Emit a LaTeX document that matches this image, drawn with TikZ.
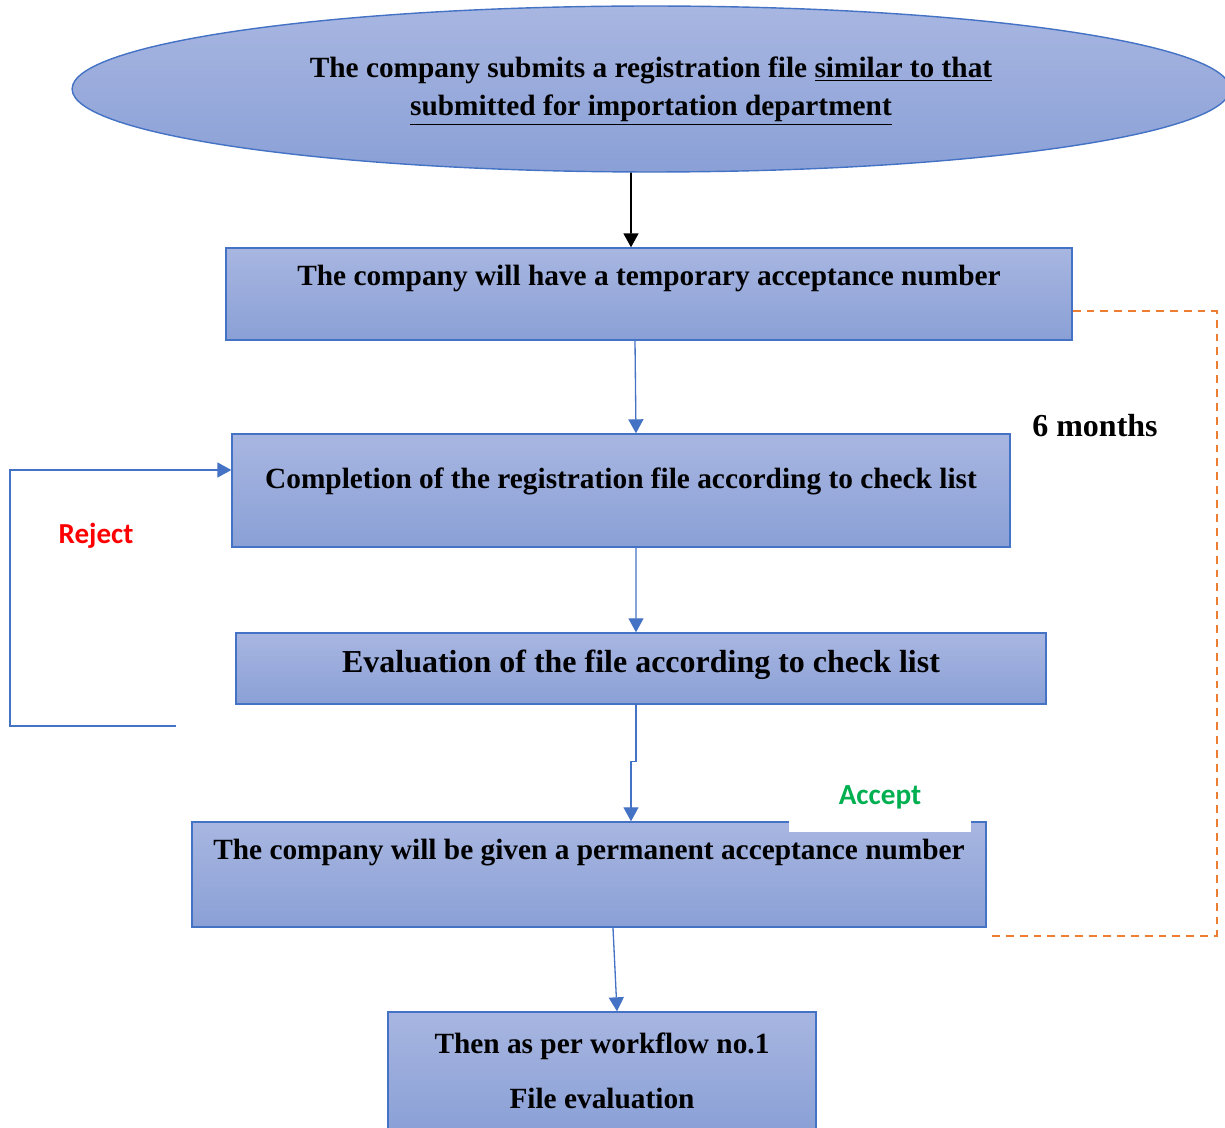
\documentclass[tikz,border=0pt]{standalone}
\usepackage{fontspec}
\setmainfont{Liberation Serif}
\newfontfamily\calibri{Carlito}
\usetikzlibrary{shapes.geometric,arrows.meta}

\definecolor{boxtop}{RGB}{168,182,225}
\definecolor{boxbot}{RGB}{138,160,214}
\definecolor{boxline}{RGB}{68,114,196}
\definecolor{waitline}{RGB}{237,125,49}
\definecolor{okgreen}{RGB}{0,176,80}

\begin{document}
\begin{tikzpicture}[x=0.02cm, y=0.02cm]
	\tikzstyle{every node}+=[inner sep=0pt]
	\tikzstyle{box}=[draw=boxline, line width=0.8pt, top color=boxtop, bottom color=boxbot, align=center, font=\bfseries\fontsize{16.7}{19.5}\selectfont]
	\tikzstyle{flow}=[boxline, line width=0.75pt, -{Triangle[length=0.28cm,width=0.3cm]}]
	\tikzstyle{wait}=[waitline, line width=1.1pt, dash pattern=on 4.5pt off 3.4pt]
	\useasboundingbox (0,0) rectangle (1225,-1128);
	\draw (651,-89) node [box, ellipse, minimum width=23.16cm, minimum height=3.32cm] (start) {\rule{0pt}{0.5cm}The company submits a registration file \underline{similar to that}\\[0.06cm]\underline{submitted for importation department}};
	\draw (649,-294) node [box, minimum width=16.92cm, text height=0.76cm, text depth=1.08cm] (temp) {The company will have a temporary acceptance number};
	\draw (621,-490.5) node [box, minimum width=15.56cm, text height=1.1cm, text depth=1.16cm] (complete) {Completion of the registration file according to check list};
	\draw (641,-668.5) node [box, minimum width=16.2cm, text height=0.8cm, text depth=0.62cm, font=\bfseries\fontsize{18.2}{21}\selectfont] (evaluate) {Evaluation of the file according to check list};
	\draw (589,-874.5) node [box, minimum width=15.88cm, text height=0.74cm, text depth=1.36cm] (perm) {The company will be given a permanent acceptance number};
	\draw (602,-1071) node [box, minimum width=8.56cm, minimum height=2.36cm] (workflow) {Then as per workflow no.1\\[0.42cm]File evaluation};
	\draw (880,-797) node [fill=white, minimum width=3.64cm, minimum height=1.4cm, text=okgreen, font=\calibri\bfseries\fontsize{16.6}{19}\selectfont] (accept) {Accept};
	\draw (96,-536) node [text=red, font=\calibri\bfseries\fontsize{16.5}{19}\selectfont] (reject) {Reject};
	\draw (1095,-426) node [font=\bfseries\fontsize{18.2}{21}\selectfont] (months) {6 months};
	\coordinate (loopfree) at (176,-726);
	\draw [black, line width=1pt, -{Triangle[length=0.28cm,width=0.3cm]}] ([xshift=-0.4cm]start.south) -- ([xshift=-0.36cm]temp.north);
	\draw [flow] ([xshift=-0.28cm]temp.south) -- ([xshift=0.3cm]complete.north);
	\draw [flow] ([xshift=0.3cm]complete.south) -- ([xshift=-0.1cm]evaluate.north);
	\draw [flow] ([xshift=-0.1cm]evaluate.south) -- ++(0,-57) -| ([xshift=0.84cm]perm.north);
	\draw [flow] ([xshift=0.48cm]perm.south) -- ([xshift=0.3cm]workflow.north);
	\draw [flow] (loopfree) -- ++(-166,0) |- ([yshift=0.41cm]complete.west);
	\draw [wait] ([yshift=-0.34cm]temp.east) -- ++(144,0) |- ([yshift=-0.16cm]perm.south east);
\end{tikzpicture}
\end{document}
